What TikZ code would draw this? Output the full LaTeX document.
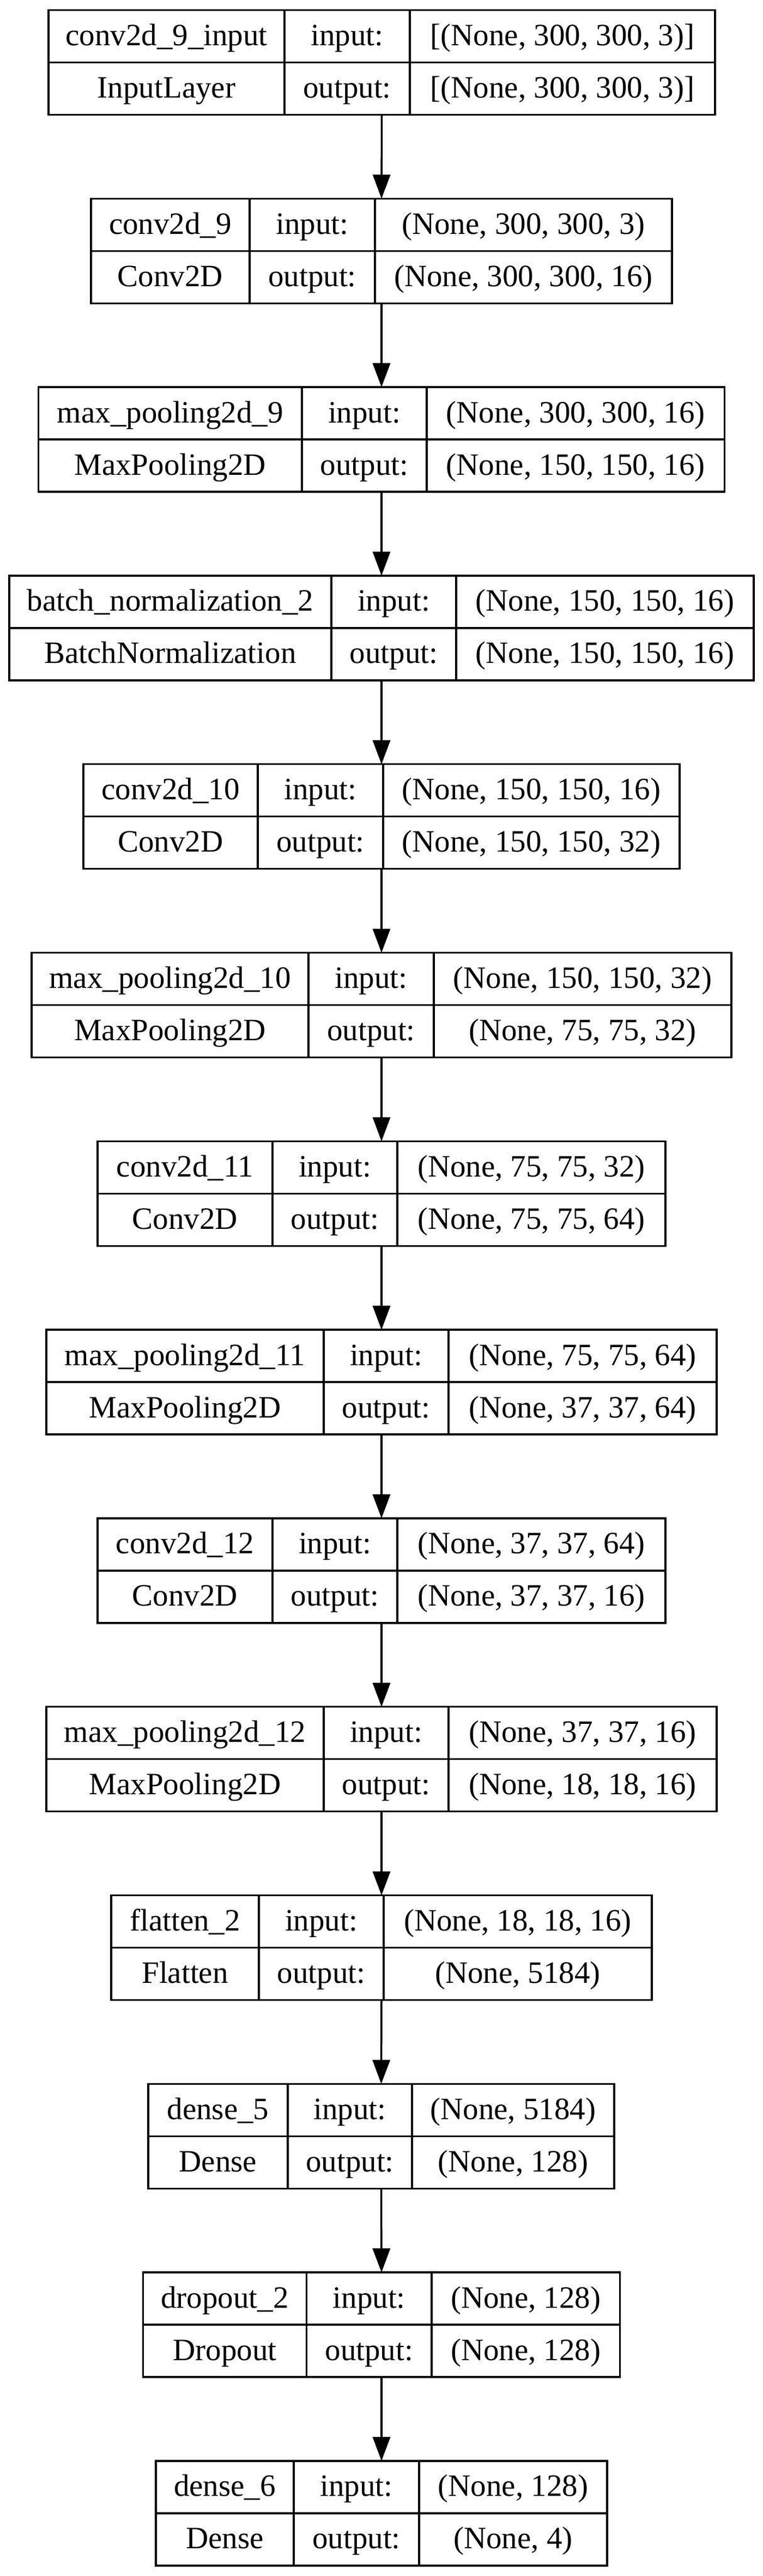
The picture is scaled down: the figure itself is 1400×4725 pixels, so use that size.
\documentclass[tikz,border=0pt]{standalone}
\usepackage{fontspec}
\setmainfont{Liberation Serif}
\usetikzlibrary{arrows.meta}
\tikzset{
  lbox/.style={draw=black, line width=3.5pt, inner sep=0pt, outer sep=0pt, anchor=north west, minimum height=192pt},
  lline/.style={draw=black, line width=3.5pt},
  ltxt/.style={anchor=base, inner sep=0pt, font=\fontsize{57}{60}\selectfont, text=black},
  arr/.style={draw=black, line width=3.5pt, -{Triangle[length=44pt, width=32pt]}}
}
\newcommand{\layerbox}[9]{%
  \pgfmathsetmacro{\lbTop}{18.5+345.8*(#1-1)}%
  \node[lbox, minimum width={(#5-#2)*1pt}] (b#1) at (#2,\lbTop) {};
  \draw[lline] (#2,\lbTop+96) -- (#5,\lbTop+96);
  \draw[lline] (#3,\lbTop) -- (#3,\lbTop+192);
  \draw[lline] (#4,\lbTop) -- (#4,\lbTop+192);
  \node[ltxt] (b#1-name) at ({(#2+#3)/2},\lbTop+65) {#6};
  \node[ltxt] (b#1-type) at ({(#2+#3)/2},\lbTop+161) {#7};
  \node[ltxt] (b#1-inl) at ({(#3+#4)/2},\lbTop+65) {input:};
  \node[ltxt] (b#1-outl) at ({(#3+#4)/2},\lbTop+161) {output:};
  \node[ltxt] (b#1-in) at ({(#4+#5)/2},\lbTop+65) {#8};
  \node[ltxt] (b#1-out) at ({(#4+#5)/2},\lbTop+161) {#9};
}
\begin{document}
\begin{tikzpicture}[x=1pt,y=-1pt]
\useasboundingbox[fill=white] (0,0) rectangle (1400,4725);
\layerbox{1}{89}{522}{752}{1312}{conv2d\_9\_input}{InputLayer}{[(None, 300, 300, 3)]}{[(None, 300, 300, 3)]}
\layerbox{2}{167}{458}{688}{1233}{conv2d\_9}{Conv2D}{(None, 300, 300, 3)}{(None, 300, 300, 16)}
\layerbox{3}{70.5}{554}{783}{1329.5}{max\_pooling2d\_9}{MaxPooling2D}{(None, 300, 300, 16)}{(None, 150, 150, 16)}
\layerbox{4}{17}{608}{837}{1383}{batch\_normalization\_2}{BatchNormalization}{(None, 150, 150, 16)}{(None, 150, 150, 16)}
\layerbox{5}{153}{473}{703}{1247}{conv2d\_10}{Conv2D}{(None, 150, 150, 16)}{(None, 150, 150, 32)}
\layerbox{6}{58}{566}{796}{1342}{max\_pooling2d\_10}{MaxPooling2D}{(None, 150, 150, 32)}{(None, 75, 75, 32)}
\layerbox{7}{179}{500}{729}{1221}{conv2d\_11}{Conv2D}{(None, 75, 75, 32)}{(None, 75, 75, 64)}
\layerbox{8}{85}{594}{823}{1315}{max\_pooling2d\_11}{MaxPooling2D}{(None, 75, 75, 64)}{(None, 37, 37, 64)}
\layerbox{9}{179}{500}{729}{1221}{conv2d\_12}{Conv2D}{(None, 37, 37, 64)}{(None, 37, 37, 16)}
\layerbox{10}{85}{594}{823}{1315}{max\_pooling2d\_12}{MaxPooling2D}{(None, 37, 37, 16)}{(None, 18, 18, 16)}
\layerbox{11}{204}{475}{704}{1196}{flatten\_2}{Flatten}{(None, 18, 18, 16)}{(None, 5184)}
\layerbox{12}{272}{528}{756}{1127}{dense\_5}{Dense}{(None, 5184)}{(None, 128)}
\layerbox{13}{262.5}{562.5}{792}{1137.5}{dropout\_2}{Dropout}{(None, 128)}{(None, 128)}
\layerbox{14}{286}{539}{769}{1114}{dense\_6}{Dense}{(None, 128)}{(None, 4)}
\foreach \i [evaluate=\i as \j using int(\i+1)] in {1,...,13}
  \draw[arr] (b\i.south) -- (b\j.north);
\end{tikzpicture}
\end{document}
